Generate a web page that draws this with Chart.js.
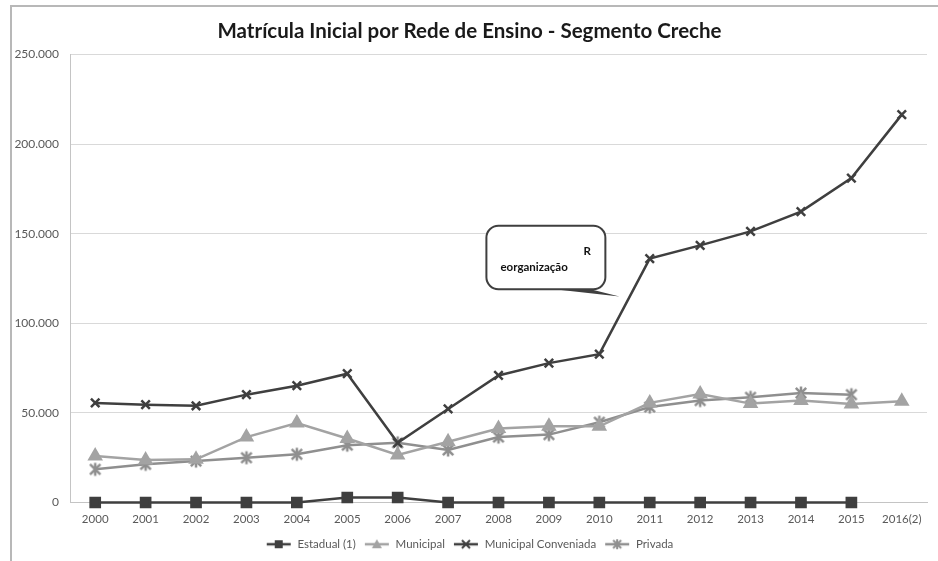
<!DOCTYPE html>
<html>
<head>
<meta charset="utf-8">
<script src="https://cdn.jsdelivr.net/npm/chart.js@4/dist/chart.umd.min.js"></script>
<style>
  body { margin: 0; background: #fff; }
  #frame {
    position: absolute; left: 10px; top: 5px;
    width: 926px; height: 554px;
    border-left: 2px solid #b8b8b8; border-top: 2px solid #b8b8b8;
  }
  #wrap { width: 926px; height: 554px; }
</style>
</head>
<body>
<div id="frame"><div id="wrap"><canvas id="chart"></canvas></div></div>
<script>
const anos = ['2000','2001','2002','2003','2004','2005','2006','2007','2008','2009','2010','2011','2012','2013','2014','2015','2016(2)'];
const estadual = [0, 0, 0, 0, 0, 2800, 2800, 0, 0, 0, 0, 0, 0, 0, 0, 0, null];
const municipal = [25900, 23700, 24100, 36500, 44400, 35700, 26500, 33900, 41300, 42600, 42500, 55600, 60600, 55200, 57000, 55000, 56500];
const conveniada = [55600, 54600, 54000, 60200, 65200, 71900, 33300, 52200, 70900, 77800, 82800, 136100, 143500, 151300, 162400, 181100, 216500];
const privada = [18500, 21300, 23100, 25000, 26900, 32000, 33300, 29300, 36500, 37900, 44800, 53300, 56900, 58700, 61100, 60200, null];
const yTicks = [0, 50000, 100000, 150000, 200000, 250000];

const FONT = 'Lato, "Open Sans", sans-serif';

// formato 250.000
const fmt = v => String(v).replace(/\B(?=(\d{3})+(?!\d))/g, '.');

// marcador da Privada: X com barra vertical (estilo Excel)
function starMarker(color, r, lw) {
  const c = document.createElement('canvas');
  const s = Math.ceil(2 * r + lw + 2);
  c.width = s; c.height = s;
  const g = c.getContext('2d');
  const m = s / 2, d = r * 0.8;
  g.strokeStyle = color; g.lineWidth = lw;
  g.beginPath();
  g.moveTo(m - d, m - d); g.lineTo(m + d, m + d);
  g.moveTo(m + d, m - d); g.lineTo(m - d, m + d);
  g.moveTo(m, m - r); g.lineTo(m, m + r);
  g.stroke();
  return c;
}

// icone da legenda: linha + marcador
function legendIcon(color, style) {
  const c = document.createElement('canvas');
  c.width = 26; c.height = 12;
  const g = c.getContext('2d');
  g.strokeStyle = color; g.fillStyle = color; g.lineWidth = 2.5;
  g.beginPath(); g.moveTo(1, 6); g.lineTo(25, 6); g.stroke();
  g.lineWidth = 2;
  const cx = 13, cy = 6, r = 4;
  g.beginPath();
  if (style === 'rect') { g.fillRect(cx - 4, cy - 4, 8, 8); }
  else if (style === 'triangle') {
    g.moveTo(cx, cy - 5); g.lineTo(cx + 5, cy + 4); g.lineTo(cx - 5, cy + 4); g.closePath(); g.fill();
  } else if (style === 'crossRot') {
    g.moveTo(cx - r, cy - r); g.lineTo(cx + r, cy + r);
    g.moveTo(cx + r, cy - r); g.lineTo(cx - r, cy + r); g.stroke();
  } else {
    g.moveTo(cx - r, cy - r); g.lineTo(cx + r, cy + r);
    g.moveTo(cx + r, cy - r); g.lineTo(cx - r, cy + r);
    g.moveTo(cx, cy - 5); g.lineTo(cx, cy + 5); g.stroke();
  }
  return c;
}

const series = [
  { label: 'Estadual (1)', data: estadual, color: '#3f3f3f', style: 'rect', radius: 6.5 },
  { label: 'Municipal', data: municipal, color: '#a3a3a3', style: 'triangle', radius: 6.5 },
  { label: 'Municipal Conveniada', data: conveniada, color: '#3f3f3f', style: 'crossRot', radius: 6 },
  { label: 'Privada', data: privada, color: '#8f8f8f', style: 'star', radius: 6.5 }
];

// balão "Reorganização"
const callout = {
  id: 'callout',
  afterDatasetsDraw(chart) {
    const { ctx, scales: { x, y } } = chart;
    const left = x.getPixelForValue(7.76), right = x.getPixelForValue(10.12);
    const top = y.getPixelForValue(154500), bottom = y.getPixelForValue(119000);
    const tipX = x.getPixelForValue(10.4), tipY = y.getPixelForValue(115000);
    ctx.save();
    ctx.fillStyle = '#3f3f3f';
    ctx.beginPath();
    ctx.moveTo(left + 68, bottom);
    ctx.lineTo(tipX, tipY);
    ctx.lineTo(left + 100, bottom - 1);
    ctx.closePath();
    ctx.fill();
    ctx.beginPath();
    ctx.roundRect(left, top, right - left, bottom - top, 12);
    ctx.fillStyle = '#fff';
    ctx.fill();
    ctx.lineWidth = 2;
    ctx.strokeStyle = '#3f3f3f';
    ctx.stroke();
    ctx.fillStyle = '#111';
    ctx.font = 'bold 11.5px ' + FONT;
    ctx.textBaseline = 'middle';
    ctx.fillText('R', left + 97, top + 26);
    ctx.fillText('eorganização', left + 14, top + 42);
    ctx.restore();
  }
};

new Chart(document.getElementById('chart'), {
  type: 'line',
  data: {
    labels: anos,
    datasets: series.map(s => ({
      label: s.label,
      data: s.data,
      borderColor: s.color,
      backgroundColor: s.color,
      borderWidth: 2.5,
      pointStyle: s.style === 'star' ? starMarker(s.color, 6.5, 2.5) : s.style,
      pointRadius: s.radius,
      pointBorderWidth: 2.5,
      pointBorderColor: s.color,
      pointBackgroundColor: s.color,
      tension: 0,
      clip: false
    }))
  },
  options: {
    responsive: true,
    maintainAspectRatio: false,
    animation: false,
    layout: { padding: { left: 0, right: 11, top: 0, bottom: 1 } },
    plugins: {
      title: {
        display: true,
        text: 'Matrícula Inicial por Rede de Ensino - Segmento Creche',
        color: '#1a1a1a',
        font: { family: FONT, size: 20.5, weight: 'bold' },
        padding: { top: 12, bottom: 11 }
      },
      legend: {
        position: 'bottom',
        labels: {
          color: '#595959',
          font: { family: FONT, size: 11.5 },
          usePointStyle: true,
          pointStyleWidth: 26,
          boxHeight: 11,
          padding: 8,
          generateLabels: chart => series.map((s, i) => ({
            text: s.label,
            fillStyle: s.color,
            strokeStyle: s.color,
            fontColor: '#595959',
            pointStyle: legendIcon(s.color, s.style),
            datasetIndex: i,
            hidden: false
          }))
        }
      },
      tooltip: { enabled: false }
    },
    scales: {
      x: {
        offset: true,
        grid: { display: false, drawTicks: false },
        border: { display: true, color: '#c4c4c4', width: 1 },
        ticks: { color: '#595959', font: { family: FONT, size: 11.5 }, padding: 10, maxRotation: 0, autoSkip: false },
        afterFit: s => { s.height = 28; }
      },
      y: {
        min: 0,
        max: 250000,
        afterBuildTicks: s => { s.ticks = yTicks.map(v => ({ value: v })); },
        grid: { color: '#d9d9d9', lineWidth: 1, drawTicks: false },
        border: { display: true, color: '#c4c4c4', width: 1 },
        ticks: { color: '#595959', font: { family: FONT, size: 12 }, padding: 11, callback: v => fmt(v) },
        afterFit: s => { s.width = 58; }
      }
    }
  },
  plugins: [callout]
});
</script>
</body>
</html>
